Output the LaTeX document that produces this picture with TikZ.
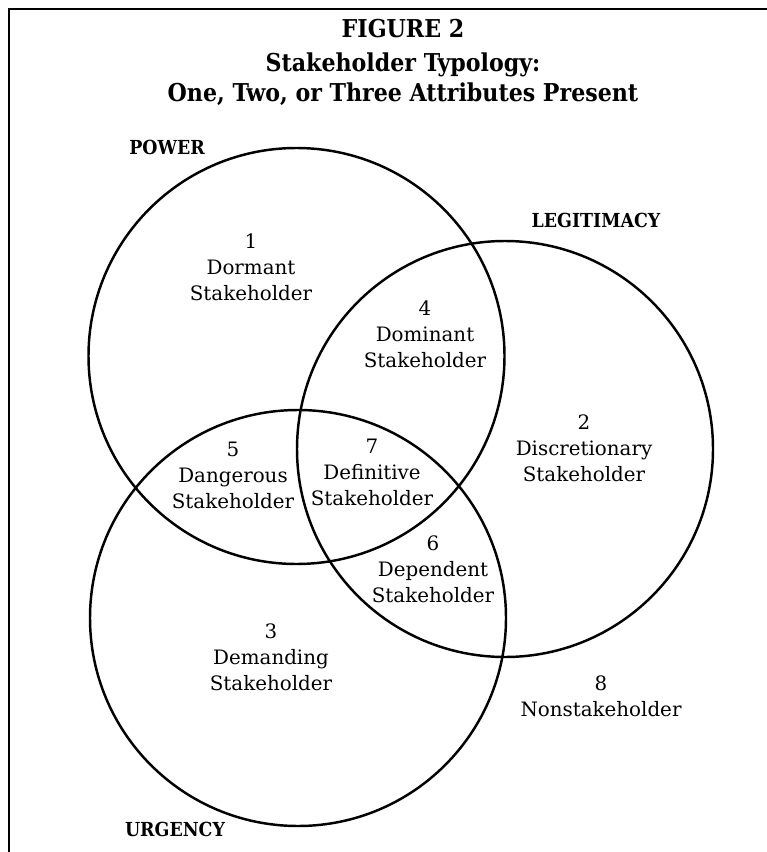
\documentclass[tikz,border=0pt]{standalone}
\usepackage{fontspec}
\setmainfont{DejaVu Serif}
\newfontfamily\condfont{DejaVu Serif Condensed}
\tikzset{
  ring/.style={line width=1.4pt},
  region/.style={align=center,font=\fontsize{11.3}{14.8}\selectfont,inner sep=0pt},
  attr/.style={font=\condfont\bfseries\fontsize{11}{13}\selectfont,inner sep=0pt},
  headline/.style={font=\condfont\bfseries\fontsize{14}{16}\selectfont,inner sep=0pt,anchor=base}
}
\begin{document}
\begin{tikzpicture}
\useasboundingbox (0,0) rectangle (15.34,-17.04);
\draw[line width=1.4pt] (.18,-17.04) -- (.18,-.18) -- (15.34,-.18);
% title
\node[headline] (fig) at (8.06,-.76) {FIGURE 2};
\node[headline] (typ) at (8.06,-1.44) {Stakeholder Typology:};
\node[headline] (sub) at (8.06,-2.04) {One, Two, or Three Attributes Present};
% the three attributes
\draw[ring] (5.93,-7.12) circle (4.16);
\draw[ring] (10.10,-8.98) circle (4.16);
\draw[ring] (5.96,-12.36) circle (4.16);
\node[attr] (power) at (3.34,-2.94) {POWER};
\node[attr] (legit) at (11.92,-4.40) {LEGITIMACY};
\node[attr] (urgency) at (3.50,-16.58) {URGENCY};
% classes
\node[region] (dormant) at (5.02,-5.34) {1\\Dormant\\Stakeholder};
\node[region] (dominant) at (8.50,-6.68) {4\\Dominant\\Stakeholder};
\node[region] (definitive) at (7.44,-9.44) {7\\Definitive\\Stakeholder};
\node[region] (discret) at (11.68,-8.96) {2\\Discretionary\\Stakeholder};
\node[region] (dangerous) at (4.66,-9.50) {5\\Dangerous\\Stakeholder};
\node[region] (dependent) at (8.66,-11.38) {6\\Dependent\\Stakeholder};
\node[region] (demanding) at (5.42,-13.14) {3\\Demanding\\Stakeholder};
\node[region] (nonstake) at (12.02,-13.92) {8\\Nonstakeholder};
\end{tikzpicture}
\end{document}
